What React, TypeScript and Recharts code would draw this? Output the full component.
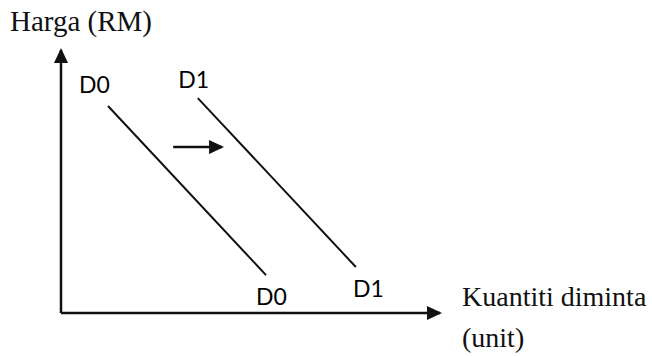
import React from "react";
import { ComposedChart, Line, Scatter, XAxis, YAxis, Label } from "recharts";

// demand curves (x: quantity 0-100, y: price 0-100)
const d0Line = [
  { x: 12.4, y: 78.7 },
  { x: 54.1, y: 14.4 },
];
const d1Line = [
  { x: 36.1, y: 81.7 },
  { x: 77.8, y: 17.5 },
];
const shiftArrow = [
  { x: 29.6, y: 63.1 },
  { x: 42.5, y: 63.1 },
];
const curveLabels = [
  { x: 8.8, y: 83.7, text: "D0" },
  { x: 35.0, y: 85.6, text: "D1" },
  { x: 55.5, y: 3.0, text: "D0" },
  { x: 81.1, y: 6.1, text: "D1" },
];
const yTitle = "Harga (RM)";
const xTitle = ["Kuantiti diminta", "(unit)"];

const serif = "'Liberation Serif', 'Times New Roman', serif";
const sans = "Lato, 'Liberation Sans', sans-serif";

const LabelText = (props: any) => (
  <text
    x={props.cx}
    y={props.cy}
    textAnchor="middle"
    fontFamily={sans}
    fontSize={23}
    fill="#000"
  >
    {props.payload.text}
  </text>
);

export default function App() {
  return (
    <div style={{ position: "absolute", left: 0, top: 0, background: "#fff" }}>
      <ComposedChart
        width={652}
        height={356}
        margin={{ top: 50, right: 212, bottom: 13, left: 0 }}
      >
        <defs>
          <marker
            id="arrowHead"
            viewBox="0 0 15 14"
            refX={13}
            refY={7}
            markerWidth={15}
            markerHeight={14}
            markerUnits="userSpaceOnUse"
            orient="auto-start-reverse"
          >
            <path d="M0,0 L15,7 L0,14 z" fill="#111" />
          </marker>
        </defs>
        <XAxis
          type="number"
          dataKey="x"
          domain={[0, 100]}
          height={30}
          tick={false}
          tickLine={false}
          axisLine={{ stroke: "#111", strokeWidth: 2.5, markerEnd: "url(#arrowHead)" }}
        >
          <Label
            content={(p: any) => {
              const vb = p.viewBox;
              const x = vb.x + vb.width + 22;
              return (
                <text fontFamily={serif} fontSize={28} fill="#111">
                  <tspan x={x} y={vb.y - 7}>{xTitle[0]}</tspan>
                  <tspan x={x} y={vb.y + 34}>{xTitle[1]}</tspan>
                </text>
              );
            }}
          />
        </XAxis>
        <YAxis
          type="number"
          dataKey="y"
          domain={[0, 100]}
          width={61}
          tick={false}
          tickLine={false}
          axisLine={{ stroke: "#111", strokeWidth: 2.5, markerStart: "url(#arrowHead)" }}
        >
          <Label
            content={(p: any) => {
              const vb = p.viewBox;
              return (
                <text x={vb.x + 10} y={vb.y - 19} fontFamily={serif} fontSize={29} fill="#111">
                  {yTitle}
                </text>
              );
            }}
          />
        </YAxis>
        <Line
          data={d0Line}
          dataKey="y"
          stroke="#111"
          strokeWidth={2}
          dot={false}
          activeDot={false}
          isAnimationActive={false}
        />
        <Line
          data={d1Line}
          dataKey="y"
          stroke="#111"
          strokeWidth={2}
          dot={false}
          activeDot={false}
          isAnimationActive={false}
        />
        <Line
          data={shiftArrow}
          dataKey="y"
          stroke="#111"
          strokeWidth={2.5}
          dot={false}
          activeDot={false}
          markerEnd="url(#arrowHead)"
          isAnimationActive={false}
        />
        <Scatter data={curveLabels} dataKey="y" shape={LabelText} isAnimationActive={false} />
      </ComposedChart>
    </div>
  );
}
